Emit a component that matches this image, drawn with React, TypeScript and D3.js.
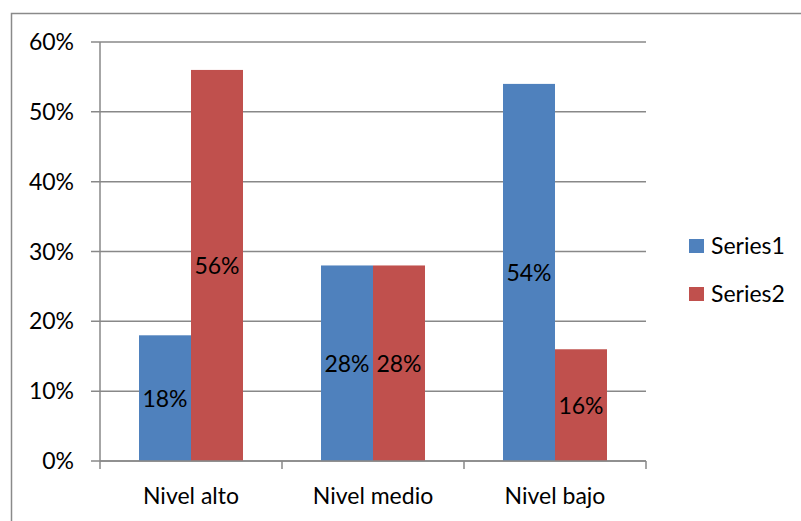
import React, { useEffect, useRef } from 'react';
import * as d3 from 'd3';

// chart values
const categories = ['Nivel alto', 'Nivel medio', 'Nivel bajo'];
const seriesNames = ['Series1', 'Series2'];
const series1 = [0.18, 0.28, 0.54];
const series2 = [0.56, 0.28, 0.16];
const yTicks = [0, 0.1, 0.2, 0.3, 0.4, 0.5, 0.6];
const colors = ['#4F81BD', '#C0504D'];

const width = 801;
const height = 521;
const font = 'Lato, Calibri, "Open Sans", sans-serif';
const fontSize = '23px';

const App = () => {
    const d3Container = useRef<SVGSVGElement | null>(null);

    useEffect(() => {
        const svg = d3.select(d3Container.current);
        svg.selectAll('*').remove();

        const margin = { left: 100, right: 155, top: 42, bottom: 60 };
        const plotW = 646 - margin.left;

        const x = d3.scaleBand().domain(categories).range([margin.left, margin.left + plotW]).paddingInner(0).paddingOuter(0);
        const xInner = d3.scaleBand().domain(seriesNames).range([0, x.bandwidth()]).paddingInner(0).paddingOuter(0.75);
        const y = d3.scaleLinear().domain([0, 0.6]).range([461, 42]);

        // outer chart border
        svg.append('rect')
            .attr('x', 11.5).attr('y', 13.5)
            .attr('width', 820).attr('height', 540)
            .attr('fill', 'none').attr('stroke', '#8a8a8a').attr('stroke-width', 1.5);

        // gridlines
        svg.selectAll('.grid')
            .data(yTicks)
            .enter()
            .append('line')
            .attr('x1', 91).attr('x2', margin.left + plotW)
            .attr('y1', d => y(d)).attr('y2', d => y(d))
            .attr('stroke', '#888').attr('stroke-width', 1.5);

        // y tick labels
        svg.selectAll('.ylab')
            .data(yTicks)
            .enter()
            .append('text')
            .attr('x', 74).attr('y', d => y(d) + 8)
            .attr('text-anchor', 'end')
            .style('font-family', font).style('font-size', fontSize).attr('fill', '#000')
            .text(d => d3.format('.0%')(d));

        // y axis
        svg.append('line')
            .attr('x1', margin.left).attr('x2', margin.left)
            .attr('y1', y(0.6)).attr('y2', y(0))
            .attr('stroke', '#888').attr('stroke-width', 1.5);

        // bars
        const data = categories.map((c, i) => ({ c, vals: [series1[i], series2[i]] }));
        const groups = svg.selectAll('.grp')
            .data(data)
            .enter()
            .append('g')
            .attr('transform', d => `translate(${x(d.c)},0)`);

        groups.selectAll('rect')
            .data(d => d.vals.map((v, j) => ({ v, s: seriesNames[j], j })))
            .enter()
            .append('rect')
            .attr('x', d => xInner(d.s)!)
            .attr('width', xInner.bandwidth())
            .attr('y', d => y(d.v))
            .attr('height', d => y(0) - y(d.v))
            .attr('fill', d => colors[d.j]);

        groups.selectAll('text')
            .data(d => d.vals.map((v, j) => ({ v, s: seriesNames[j], j })))
            .enter()
            .append('text')
            .attr('x', d => xInner(d.s)! + xInner.bandwidth() / 2)
            .attr('y', d => (y(d.v) + y(0)) / 2 + 9)
            .attr('text-anchor', 'middle')
            .style('font-family', font).style('font-size', fontSize).attr('fill', '#000')
            .text(d => d3.format('.0%')(d.v));

        // x axis + ticks
        svg.append('line')
            .attr('x1', margin.left).attr('x2', margin.left + plotW)
            .attr('y1', y(0)).attr('y2', y(0))
            .attr('stroke', '#888').attr('stroke-width', 1.5);

        const tickXs = [...categories.map(c => x(c)!), margin.left + plotW];
        svg.selectAll('.xtick')
            .data(tickXs)
            .enter()
            .append('line')
            .attr('x1', d => d).attr('x2', d => d)
            .attr('y1', y(0)).attr('y2', y(0) + 8)
            .attr('stroke', '#888').attr('stroke-width', 1.5);

        svg.selectAll('.xlab')
            .data(categories)
            .enter()
            .append('text')
            .attr('x', d => x(d)! + x.bandwidth() / 2)
            .attr('y', 504)
            .attr('text-anchor', 'middle')
            .style('font-family', font).style('font-size', fontSize).attr('fill', '#000')
            .text(d => d);

        // legend
        const legend = svg.selectAll('.leg')
            .data(seriesNames)
            .enter()
            .append('g')
            .attr('transform', (d, i) => `translate(689,${239 + i * 48})`);
        legend.append('rect')
            .attr('width', 15).attr('height', 14)
            .attr('fill', (d, i) => colors[i]);
        legend.append('text')
            .attr('x', 22).attr('y', 15)
            .style('font-family', font).style('font-size', fontSize).attr('fill', '#000')
            .text(d => d);
    }, []);

    return <div>
        <svg ref={d3Container} width={width} height={height}
            style={{ position: 'absolute', left: 0, top: 0, background: '#fff' }}></svg>
    </div>;
};

export default App;
